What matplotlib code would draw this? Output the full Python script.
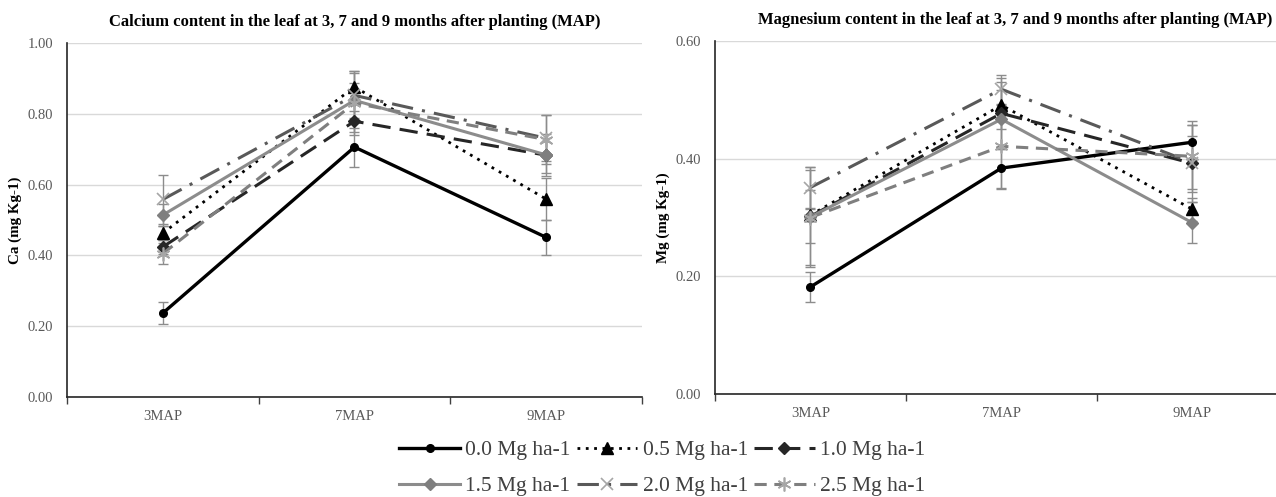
import matplotlib
matplotlib.use("Agg")
import matplotlib.pyplot as plt
import numpy as np

plt.rcParams['font.family'] = ['Liberation Serif', 'DejaVu Serif']

categories = ["3MAP", "7MAP", "9MAP"]
series_labels = ["0.0 Mg ha-1", "0.5 Mg ha-1", "1.0 Mg ha-1",
                 "1.5 Mg ha-1", "2.0 Mg ha-1", "2.5 Mg ha-1"]

# Calcium (mg Kg-1)
ca_00 = [0.237, 0.706, 0.451]
ca_05 = [0.463, 0.876, 0.559]
ca_10 = [0.424, 0.779, 0.683]
ca_15 = [0.514, 0.838, 0.684]
ca_20 = [0.558, 0.852, 0.731]
ca_25 = [0.405, 0.830, 0.727]
ca_err_00 = [0.030, 0.055, 0.050]
ca_err_05 = [0.020, 0.040, 0.060]
ca_err_10 = [0.020, 0.030, 0.050]
ca_err_15 = [0.030, 0.050, 0.060]
ca_err_20 = [0.070, 0.070, 0.065]
ca_err_25 = [0.030, 0.090, 0.070]

# Magnesium (mg Kg-1)
mg_00 = [0.182, 0.384, 0.428]
mg_05 = [0.304, 0.491, 0.314]
mg_10 = [0.302, 0.477, 0.392]
mg_15 = [0.301, 0.467, 0.291]
mg_20 = [0.351, 0.518, 0.393]
mg_25 = [0.300, 0.421, 0.404]
mg_err_00 = [0.025, 0.035, 0.030]
mg_err_05 = [0.010, 0.040, 0.020]
mg_err_10 = [0.045, 0.060, 0.065]
mg_err_15 = [0.085, 0.050, 0.035]
mg_err_20 = [0.035, 0.025, 0.045]
mg_err_25 = [0.080, 0.070, 0.060]

ca_vals = [ca_00, ca_05, ca_10, ca_15, ca_20, ca_25]
ca_errs = [ca_err_00, ca_err_05, ca_err_10, ca_err_15, ca_err_20, ca_err_25]
mg_vals = [mg_00, mg_05, mg_10, mg_15, mg_20, mg_25]
mg_errs = [mg_err_00, mg_err_05, mg_err_10, mg_err_15, mg_err_20, mg_err_25]

asterisk = (6, 2, 0)
styles = [
    dict(color="black", ls="-", lw=2.4, marker="o", ms=5.5, mfc="black", mec="black"),
    dict(color="black", ls=(0, (1, 2)), lw=2.0, marker="^", ms=8, mfc="black", mec="black"),
    dict(color="#262626", ls=(0, (6, 3)), lw=2.2, marker="D", ms=6, mfc="#262626", mec="#262626"),
    dict(color="#8c8c8c", ls="-", lw=2.2, marker="D", ms=6.5, mfc="#7f7f7f", mec="#7f7f7f"),
    dict(color="#595959", ls=(0, (7, 3, 1, 3)), lw=2.2, marker="x", ms=9, mfc="none", mec="#a6a6a6", mew=1.2),
    dict(color="#7f7f7f", ls=(0, (4, 2.5)), lw=2.2, marker=asterisk, ms=10, mfc="none", mec="#a6a6a6", mew=1.2),
]

fig = plt.figure(figsize=(12.76, 4.97), dpi=100)
ax1 = fig.add_axes([0.0525, 0.2012, 0.4506, 0.7123])
ax2 = fig.add_axes([0.5603, 0.2072, 0.4490, 0.7103])

x = np.arange(len(categories))

def draw(ax, vals, errs, ymax, ylabel, title, title_x):
    for v, e in zip(vals, errs):
        ax.errorbar(x, v, yerr=e, fmt="none", ecolor="#8c8c8c", elinewidth=1.0,
                    capsize=3.5, capthick=1.0, zorder=2)
    for v, st, lab in zip(vals, styles, series_labels):
        ax.plot(x, v, label=lab, zorder=3, **st)
    ax.set_xlim(-0.5, len(categories) - 0.5)
    ax.set_ylim(0, ymax)
    yt = np.arange(0, ymax + 1e-9, 0.2)
    ax.set_yticks(yt)
    ax.set_yticklabels([f"{t:.2f}" for t in yt])
    ax.set_xticks(x)
    ax.set_xticklabels(categories)
    ax.set_xticks(np.arange(-0.5, len(categories), 1.0), minor=True)
    ax.tick_params(axis="x", which="major", length=0, pad=9, labelsize=10.5, labelcolor="#595959")
    ax.tick_params(axis="x", which="minor", length=5, width=1, color="#404040", direction="out")
    ax.tick_params(axis="y", length=0, pad=10, labelsize=10.5, labelcolor="#595959")
    ax.grid(axis="y", color="#d9d9d9", lw=1)
    ax.set_axisbelow(True)
    for s in ["top", "right"]:
        ax.spines[s].set_visible(False)
    ax.spines["left"].set_color("#262626")
    ax.spines["bottom"].set_color("#262626")
    ax.spines["left"].set_linewidth(1.2)
    ax.spines["bottom"].set_linewidth(1.2)
    ax.set_ylabel(ylabel, fontweight="bold", fontsize=10.8, labelpad=4)
    ax.set_title(title, fontweight="bold", fontsize=12, pad=12, x=title_x)

draw(ax1, ca_vals, ca_errs, 1.0, "Ca (mg Kg-1)",
     "Calcium content in the leaf at 3, 7 and 9 months after planting (MAP)", 0.5)
draw(ax2, mg_vals, mg_errs, 0.6, "Mg (mg Kg-1)",
     "Magnesium content in the leaf at 3, 7 and 9 months after planting (MAP)", 0.524)

handles, labels = ax1.get_legend_handles_labels()
order = [0, 3, 1, 4, 2, 5]
fig.legend([handles[i] for i in order], [labels[i] for i in order],
           loc="center", bbox_to_anchor=(0.519, 0.058), ncol=3, frameon=False,
           fontsize=15.5, handlelength=2.8, handletextpad=0.25, columnspacing=0.3,
           labelspacing=0.75, labelcolor="#404040", borderpad=0.0)

fig.savefig("out.png", dpi=100)
